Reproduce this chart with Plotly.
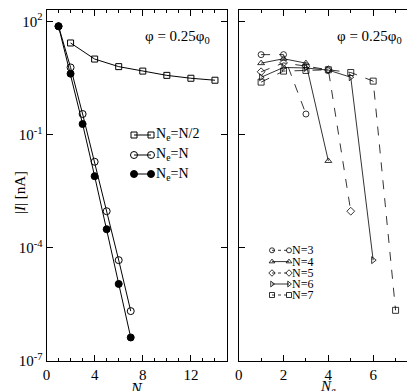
import plotly.graph_objects as go

# ---------------- data ----------------
N_half = [2, 4, 6, 8, 10, 12, 14]
I_half = [26.7, 10.0, 6.3, 4.8, 3.7, 3.1, 2.75]

N_full = [1, 2, 3, 4, 5, 6, 7]
I_open = [74, 6.0, 0.35, 0.019, 9.3e-4, 4.7e-5, 2.1e-6]
I_filled = [74, 4.1, 0.19, 0.0079, 3.1e-4, 1.1e-5, 4.2e-7]

Ne_3 = [1, 2, 3]
I_3 = [13.1, 13.1, 0.35]
Ne_4 = [1, 2, 3, 4]
I_4 = [7.8, 10.2, 7.8, 0.02]
Ne_5 = [1, 2, 3, 4, 5]
I_5 = [4.6, 7.9, 6.5, 5.2, 9.3e-4]
Ne_6 = [1, 2, 3, 4, 5, 6]
I_6 = [3.3, 6.0, 5.8, 5.1, 3.3, 4.7e-5]
Ne_7 = [1, 2, 3, 4, 5, 6, 7]
I_7 = [2.45, 4.8, 5.0, 5.2, 4.4, 2.6, 2.2e-6]

left_names = ["N<sub>e</sub>=N/2", "N<sub>e</sub>=N", "N<sub>e</sub>=N"]
right_names = ["N=3", "N=4", "N=5", "N=6", "N=7"]

# ---------------- layout helpers ----------------
W, H = 415, 391
def px(x): return x / W
def py(y): return 1 - y / H

FONT = "Liberation Serif"
fig = go.Figure()

# left panel
left_styles = [
    dict(symbol="square-open", size=6, color="black", line=dict(width=1, color="black")),
    dict(symbol="circle-open", size=7, color="black", line=dict(width=1, color="black")),
    dict(symbol="circle", size=7, color="black", line=dict(width=1, color="black")),
]
left_data = [(N_half, I_half), (N_full, I_open), (N_full, I_filled)]
for (xs, ys), st, nm in zip(left_data, left_styles, left_names):
    fig.add_trace(go.Scatter(x=xs, y=ys, mode="lines+markers", name=nm,
                             line=dict(color="black", width=1), marker=st,
                             showlegend=False, xaxis="x", yaxis="y"))

# right panel
right_data = [(Ne_3, I_3), (Ne_4, I_4), (Ne_5, I_5), (Ne_6, I_6), (Ne_7, I_7)]
right_symbols = ["circle-open", "triangle-up-open", "diamond-open", "triangle-right-open", "square-open"]
right_dash = ["dash", "solid", "dash", "solid", "dash"]
for (xs, ys), sym, dsh, nm in zip(right_data, right_symbols, right_dash, right_names):
    fig.add_trace(go.Scatter(x=xs, y=ys, mode="lines+markers", name=nm,
                             line=dict(color="black", width=0.8, dash=dsh),
                             marker=dict(symbol=sym, size=6, color="black", line=dict(width=0.8, color="black")),
                             showlegend=False, xaxis="x2", yaxis="y2"))

# legend keys (drawn on a pixel-space overlay axis)
left_rows = [127, 147, 166]
for st, yy in zip(left_styles, left_rows):
    fig.add_trace(go.Scatter(x=[126, 143], y=[yy, yy], mode="lines+markers",
                             line=dict(color="black", width=1), marker=st,
                             showlegend=False, hoverinfo="skip", xaxis="x3", yaxis="y3"))
right_rows = [242.3, 253.6, 265, 276, 287]
for sym, dsh, yy in zip(right_symbols, right_dash, right_rows):
    fig.add_trace(go.Scatter(x=[264, 281], y=[yy, yy], mode="lines+markers",
                             line=dict(color="black", width=0.8, dash="dot" if dsh == "dash" else "solid"),
                             marker=dict(symbol=sym, size=5, color="black", line=dict(width=0.8, color="black")),
                             showlegend=False, hoverinfo="skip", xaxis="x3", yaxis="y3"))

ann = []
for nm, yy in zip(left_names, left_rows):
    ann.append(dict(text=nm, x=px(147), y=py(yy), xref="paper", yref="paper",
                    xanchor="left", yanchor="middle", showarrow=False, borderpad=0,
                    font=dict(family=FONT, size=14, color="black")))
for nm, yy in zip(right_names, right_rows):
    ann.append(dict(text=nm, x=px(283), y=py(yy), xref="paper", yref="paper",
                    xanchor="left", yanchor="middle", showarrow=False, borderpad=0,
                    font=dict(family=FONT, size=12, color="black")))
for xc in (169, 361):
    ann.append(dict(text="φ = 0.25φ<sub>0</sub>", x=px(xc), y=py(29), xref="paper", yref="paper",
                    xanchor="center", yanchor="middle", showarrow=False,
                    font=dict(family=FONT, size=15, color="black")))
ann.append(dict(text="<i>N</i>", x=px(128.7), y=py(380), xref="paper", yref="paper",
                xanchor="center", yanchor="middle", showarrow=False, borderpad=0,
                font=dict(family=FONT, size=16, color="black")))
ann.append(dict(text="<i>N<sub>e</sub></i>", x=px(320), y=py(379), xref="paper", yref="paper",
                xanchor="center", yanchor="middle", showarrow=False, borderpad=0,
                font=dict(family=FONT, size=15, color="black")))
ann.append(dict(text="|<i>I</i>| [nA]", x=px(12), y=py(185), xref="paper", yref="paper",
                xanchor="center", yanchor="middle", showarrow=False, textangle=-90,
                font=dict(family=FONT, size=15, color="black")))

# y ticks
ymaj = [1e-7, 1e-4, 1e-1, 1e2]
ymaj_txt = ["10<sup>-7</sup>", "10<sup>-4</sup>", "10<sup>-1</sup>", "10<sup>2</sup>"]
yminor = [m * 10.0 ** e for e in range(-7, 3) for m in range(1, 10) if not (m == 1 and e in (-7, -4, -1, 2))]

common_axis = dict(showline=True, linecolor="black", linewidth=1, mirror="ticks",
                   ticks="inside", tickcolor="black", ticklen=6, tickwidth=1,
                   showgrid=False, zeroline=False, automargin=False,
                   tickfont=dict(family=FONT, size=15, color="black"))

yax = dict(common_axis, type="log", range=[-7, 2.3], tickmode="array",
           tickvals=ymaj, ticktext=ymaj_txt)
ymin_ax = dict(type="log", range=[-7, 2.3], tickmode="array", tickvals=yminor,
               ticks="inside", ticklen=3, tickwidth=1, tickcolor="black",
               showticklabels=False, showline=False, showgrid=False, zeroline=False,
               mirror="ticks", automargin=False)

xminor = dict(tickmode="linear", tick0=0, dtick=1, ticks="inside", ticklen=3, tickcolor="black", showgrid=False)

fig.update_layout(
    width=W, height=H, margin=dict(l=0, r=0, t=0, b=0, autoexpand=False),
    paper_bgcolor="white", plot_bgcolor="rgba(0,0,0,0)",
    showlegend=False,
    xaxis=dict(common_axis, domain=[px(38.5), px(219)], range=[0, 15], autorange=False, tickmode="array",
               tickvals=[0, 4, 8, 12], anchor="y", minor=xminor),
    yaxis=dict(yax, domain=[py(353), py(2)], anchor="x", autorange=False),
    xaxis2=dict(common_axis, domain=[px(230.7), px(410)], range=[0, 8], autorange=False, tickmode="array",
                tickvals=[0, 2, 4, 6, 8], anchor="y2", minor=xminor),
    yaxis2=dict(yax, domain=[py(353), py(2)], anchor="x2", showticklabels=False, autorange=False),
    yaxis4=dict(ymin_ax, overlaying="y", anchor="x"),
    yaxis5=dict(ymin_ax, overlaying="y2", anchor="x2"),
    xaxis3=dict(domain=[0, 1], range=[0, W], visible=False, anchor="y3", fixedrange=True),
    yaxis3=dict(domain=[0, 1], range=[H, 0], visible=False, anchor="x3", fixedrange=True),
    annotations=ann,
)

fig.write_html("out.html")
